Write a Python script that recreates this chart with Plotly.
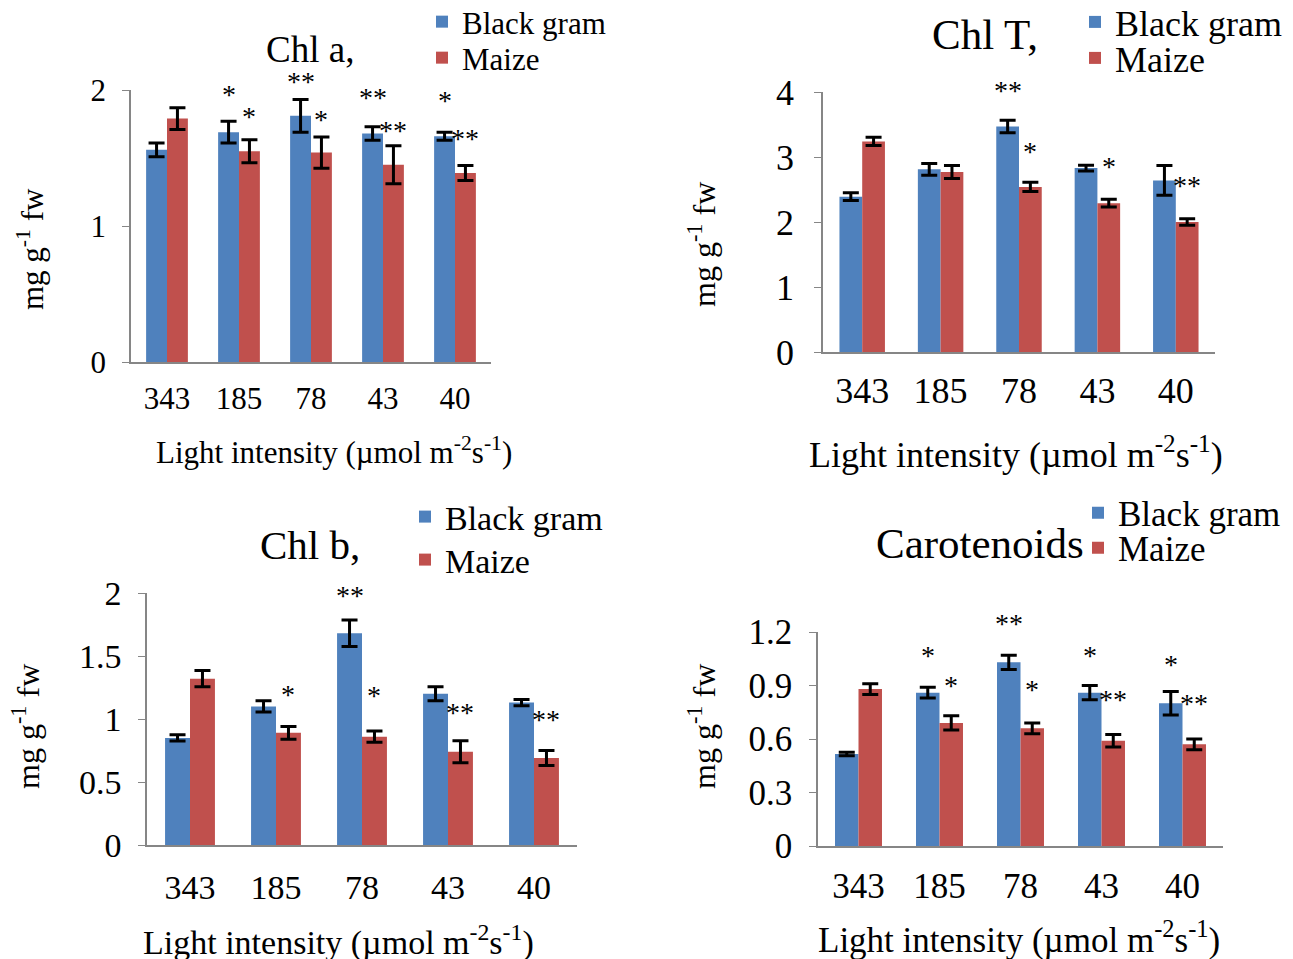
import plotly.graph_objects as go

W, H = 1293, 959
OFF = 8  # page body margin in the browser

categories = ["343", "185", "78", "43", "40"]
series_names = ["Black gram", "Maize"]

chla_bg = [1.56, 1.69, 1.81, 1.68, 1.66]
chla_bg_err = [0.05, 0.08, 0.12, 0.05, 0.03]
chla_mz = [1.79, 1.55, 1.54, 1.45, 1.39]
chla_mz_err = [0.08, 0.085, 0.115, 0.14, 0.055]
chla_bg_sig = ["", "*", "**", "**", "*"]
chla_bg_sig_y = [None, 1.98, 2.08, 1.96, 1.94]
chla_mz_sig = ["", "*", "*", "**", "**"]
chla_mz_sig_y = [None, 1.82, 1.80, 1.72, 1.66]

chlt_bg = [2.39, 2.81, 3.47, 2.83, 2.64]
chlt_bg_err = [0.06, 0.09, 0.095, 0.045, 0.23]
chlt_mz = [3.24, 2.77, 2.54, 2.29, 2.00]
chlt_mz_err = [0.065, 0.10, 0.07, 0.06, 0.05]
chlt_bg_sig = ["", "", "**", "", ""]
chlt_bg_sig_y = [None, None, 4.06, None, None]
chlt_mz_sig = ["", "", "*", "*", "**"]
chlt_mz_sig_y = [None, None, 3.11, 2.88, 2.59]

chlb_bg = [0.85, 1.10, 1.68, 1.20, 1.13]
chlb_bg_err = [0.025, 0.045, 0.105, 0.055, 0.025]
chlb_mz = [1.32, 0.89, 0.86, 0.74, 0.69]
chlb_mz_err = [0.065, 0.05, 0.045, 0.087, 0.06]
chlb_bg_sig = ["", "", "**", "", ""]
chlb_bg_sig_y = [None, None, 2.0, None, None]
chlb_mz_sig = ["", "*", "*", "**", "**"]
chlb_mz_sig_y = [None, 1.21, 1.20, 1.07, 1.01]

car_bg = [0.516, 0.86, 1.03, 0.86, 0.80]
car_bg_err = [0.01, 0.03, 0.04, 0.04, 0.066]
car_mz = [0.88, 0.69, 0.66, 0.59, 0.57]
car_mz_err = [0.03, 0.04, 0.03, 0.035, 0.03]
car_bg_sig = ["", "*", "**", "*", "*"]
car_bg_sig_y = [None, 1.08, 1.26, 1.08, 1.03]
car_mz_sig = ["", "*", "*", "**", "**"]
car_mz_sig_y = [None, 0.91, 0.89, 0.83, 0.81]

BLUE = "#4F81BD"
RED = "#C0504D"
AXIS = "#868686"
FONT = "Liberation Serif"

BARGAP = 0.42
half = (1 - BARGAP) / 4  # offset of each bar centre from category centre


def px(x):
    return (x - OFF) / W


def py(y):
    return 1 - (y - OFF) / H


panels = [
    dict(title="Chl a,", bg=chla_bg, bge=chla_bg_err, mz=chla_mz, mze=chla_mz_err,
         bgs=chla_bg_sig, bgsy=chla_bg_sig_y, mzs=chla_mz_sig, mzsy=chla_mz_sig_y,
         yrange=[0, 2], dtick=1, xpx=(131, 491), ypx=(362, 90),
         title_pos=(310, 50), title_fs=37, legend_x=462, legend_y=(22, 58),
         fs=31, yt_fs=31, xstand=8, ystand=10, ytitle=(30, 249), xtitle=(334, 450)),
    dict(title="Chl T,", bg=chlt_bg, bge=chlt_bg_err, mz=chlt_mz, mze=chlt_mz_err,
         bgs=chlt_bg_sig, bgsy=chlt_bg_sig_y, mzs=chlt_mz_sig, mzsy=chlt_mz_sig_y,
         yrange=[0, 4], dtick=1, xpx=(823, 1215), ypx=(352, 92),
         title_pos=(985, 35), title_fs=43, legend_x=1115, legend_y=(22, 58),
         fs=36, yt_fs=32, xstand=6, ystand=13, ytitle=(702, 245), xtitle=(1016, 452)),
    dict(title="Chl b,", bg=chlb_bg, bge=chlb_bg_err, mz=chlb_mz, mze=chlb_mz_err,
         bgs=chlb_bg_sig, bgsy=chlb_bg_sig_y, mzs=chlb_mz_sig, mzsy=chlb_mz_sig_y,
         yrange=[0, 2], dtick=0.5, xpx=(147, 577), ypx=(845, 593),
         title_pos=(310, 545), title_fs=41, legend_x=445, legend_y=(517, 560),
         fs=34, yt_fs=32, xstand=11, ystand=10, ytitle=(26, 727), xtitle=(338, 940)),
    dict(title="Carotenoids", bg=car_bg, bge=car_bg_err, mz=car_mz, mze=car_mz_err,
         bgs=car_bg_sig, bgsy=car_bg_sig_y, mzs=car_mz_sig, mzsy=car_mz_sig_y,
         yrange=[0, 1.2], dtick=0.3, xpx=(818, 1223), ypx=(846, 632),
         title_pos=(980, 543), title_fs=43, legend_x=1118, legend_y=(513, 548),
         fs=35, yt_fs=32, xstand=8, ystand=10, ytitle=(702, 727), xtitle=(1019, 937)),
]

fig = go.Figure()
idx = list(range(len(categories)))
layout = dict(width=W, height=H, margin=dict(l=0, r=0, t=0, b=0, autoexpand=False),
              paper_bgcolor="white", plot_bgcolor="white", showlegend=True,
              barmode="group", bargap=BARGAP, bargroupgap=0,
              font=dict(family=FONT, color="black"), annotations=[])

leg_n = 0
for k, p in enumerate(panels, start=1):
    sfx = "" if k == 1 else str(k)
    xa, ya = "x" + sfx, "y" + sfx
    for j, (name, vals, errs, col) in enumerate(
            [(series_names[0], p["bg"], p["bge"], BLUE),
             (series_names[1], p["mz"], p["mze"], RED)]):
        leg_n += 1
        leg = "legend" if leg_n == 1 else "legend" + str(leg_n)
        fig.add_trace(go.Bar(
            x=idx, y=vals, name=name, marker=dict(color=col, line=dict(width=0)),
            error_y=dict(type="data", array=errs, color="black", thickness=3, width=8),
            xaxis=xa, yaxis=ya, legend=leg, offsetgroup=name,
        ))
        layout[leg] = dict(x=px(p["legend_x"] - 40), y=py(p["legend_y"][j]),
                           xanchor="left", yanchor="middle",
                           bgcolor="rgba(0,0,0,0)",
                           font=dict(size=p["fs"], family=FONT, color="black"))
    x0, x1 = p["xpx"]
    yb, yt = p["ypx"]
    layout["xaxis" + sfx] = dict(
        domain=[px(x0), px(x1)], anchor=ya, range=[-0.5, len(categories) - 0.5],
        tickvals=idx, ticktext=categories, showline=True, linecolor=AXIS, linewidth=1.5,
        ticks="", showgrid=False, zeroline=False, ticklabelstandoff=p["xstand"],
        tickfont=dict(size=p["fs"], family=FONT, color="black"),
    )
    layout["yaxis" + sfx] = dict(
        domain=[py(yb), py(yt)], anchor=xa, range=p["yrange"], dtick=p["dtick"],
        tick0=0, showline=True, linecolor=AXIS, linewidth=1.5,
        ticks="outside", ticklen=7, tickcolor=AXIS, showgrid=False, zeroline=False,
        ticklabelstandoff=p["ystand"], tickfont=dict(size=p["fs"], family=FONT, color="black"),
    )
    tx, ty = p["title_pos"]
    layout["annotations"].append(dict(
        x=px(tx), y=py(ty), xref="paper", yref="paper", text=p["title"],
        xanchor="center", yanchor="middle", showarrow=False,
        font=dict(size=p["title_fs"], family=FONT)))
    layout["annotations"].append(dict(
        x=px(p["ytitle"][0]), y=py(p["ytitle"][1]), xref="paper", yref="paper",
        text="mg g<sup>-1</sup> fw", textangle=-90, showarrow=False,
        xanchor="center", yanchor="middle", font=dict(size=p["yt_fs"], family=FONT)))
    layout["annotations"].append(dict(
        x=px(p["xtitle"][0]), y=py(p["xtitle"][1]), xref="paper", yref="paper",
        text="Light intensity (µmol m<sup>-2</sup>s<sup>-1</sup>)", showarrow=False,
        xanchor="center", yanchor="middle", font=dict(size=p["fs"], family=FONT)))
    r0, r1 = p["yrange"]
    for sigs, sy, off in [(p["bgs"], p["bgsy"], -half), (p["mzs"], p["mzsy"], half)]:
        for i, (s, yv) in enumerate(zip(sigs, sy)):
            if s:
                layout["annotations"].append(dict(
                    x=i + off, y=(yv - r0) / (r1 - r0), xref=xa, yref=ya + " domain",
                    text=s, showarrow=False, xanchor="center", yanchor="middle",
                    yshift=-2, font=dict(size=28, family=FONT)))

fig.update_layout(**layout)
fig.write_html("out.html")
